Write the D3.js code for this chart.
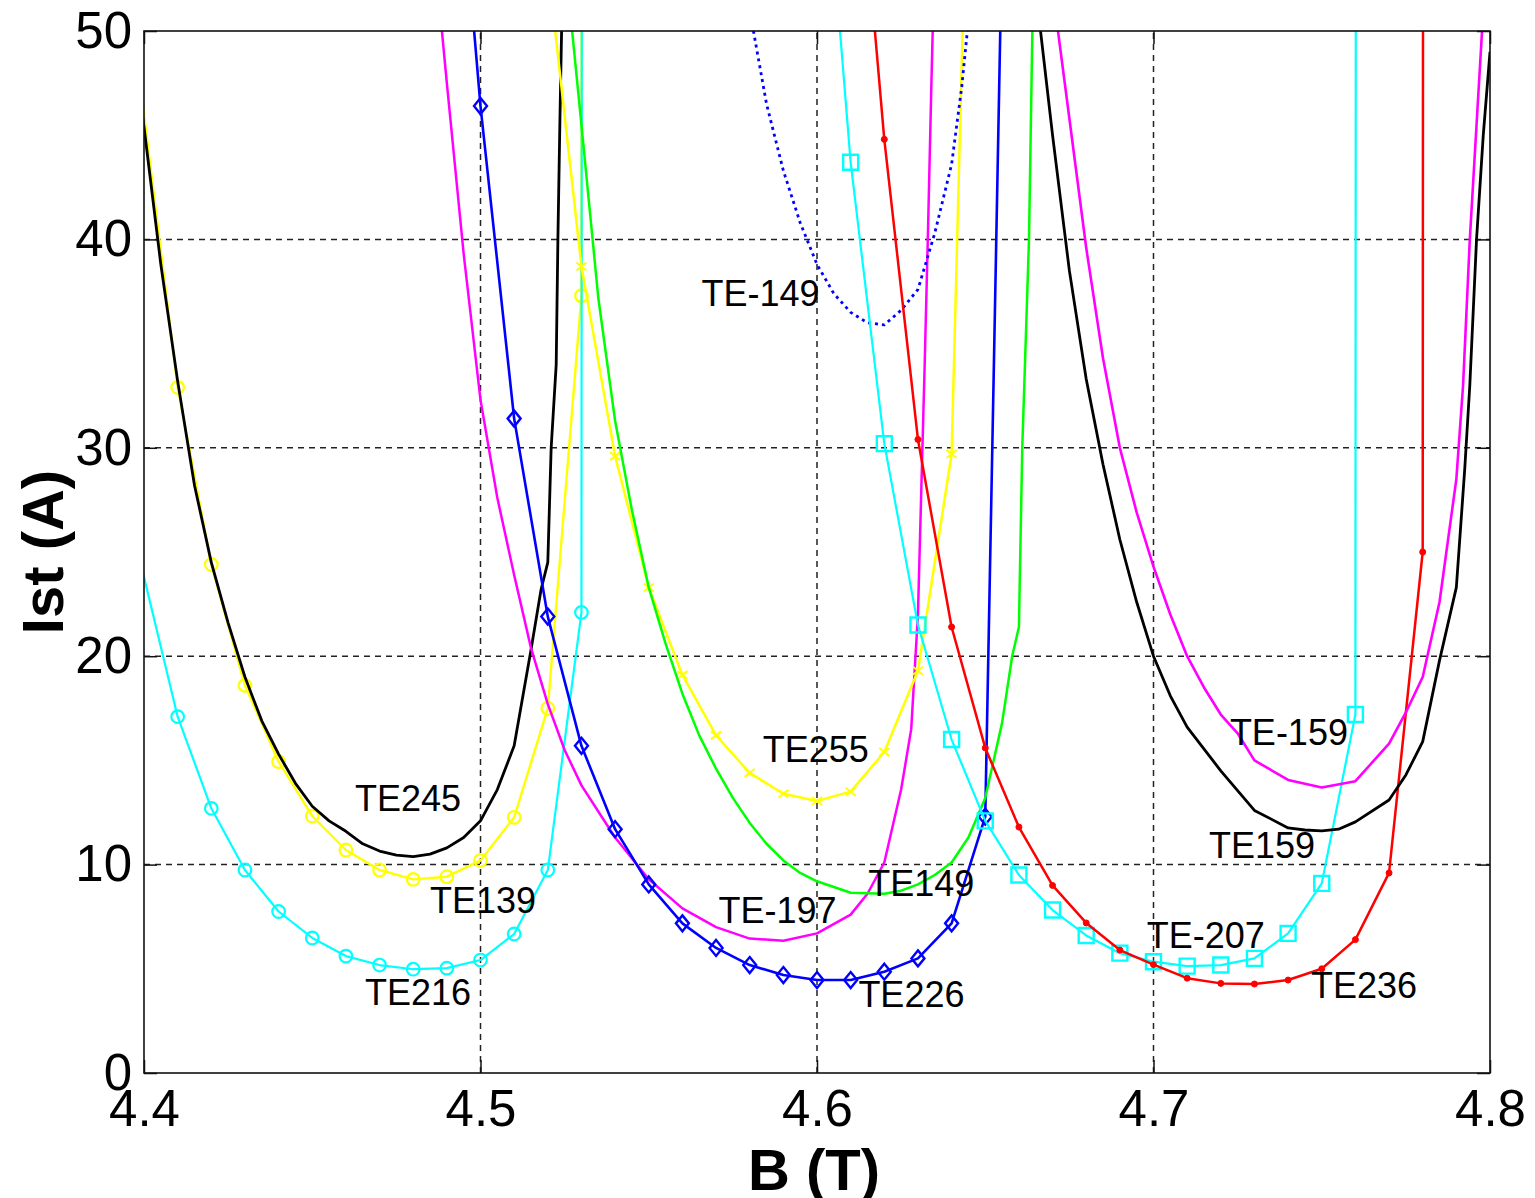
<!DOCTYPE html>
<html><head><meta charset="utf-8">
<script src="https://cdn.jsdelivr.net/npm/d3@7"></script>
<style>html,body{margin:0;padding:0;background:#fff;} svg{display:block;}</style>
</head><body>
<svg id="chart" width="1535" height="1198"></svg>
<script>
// ---------------- data ----------------
const xTicks = [4.4, 4.5, 4.6, 4.7, 4.8];
const xTickLabels = ["4.4", "4.5", "4.6", "4.7", "4.8"];
const yTicks = [0, 10, 20, 30, 40, 50];
const yTickLabels = ["0", "10", "20", "30", "40", "50"];

// TE216 (cyan, circles)
const B_TE216 = [4.39, 4.41, 4.42, 4.43, 4.44, 4.45, 4.46, 4.47, 4.48, 4.49, 4.50, 4.51, 4.52, 4.53, 4.54];
const I_TE216 = [30.5, 17.1, 12.7, 9.74, 7.75, 6.48, 5.61, 5.18, 4.98, 5.03, 5.42, 6.67, 9.74, 22.1, 3000];

// TE139 (yellow, circles)
const B_TE139 = [4.39, 4.41, 4.42, 4.43, 4.44, 4.45, 4.46, 4.47, 4.48, 4.49, 4.50, 4.51, 4.52, 4.53, 4.54];
const I_TE139 = [59.1, 32.9, 24.4, 18.6, 14.94, 12.33, 10.7, 9.74, 9.29, 9.42, 10.2, 12.27, 17.5, 37.3, 3000];

// TE245 (black)
const B_TE245 = [4.390, 4.400, 4.405, 4.410, 4.415, 4.420, 4.425, 4.430, 4.435, 4.440, 4.445, 4.450, 4.455, 4.460, 4.465, 4.470, 4.475, 4.480, 4.485, 4.490, 4.495, 4.500, 4.505, 4.510, 4.515, 4.518, 4.520, 4.521, 4.5225, 4.523, 4.5236, 4.5241, 4.5245];
const I_TE245 = [57.0, 45.4, 38.8, 33.2, 28.2, 24.5, 21.6, 19.0, 16.9, 15.3, 13.9, 12.8, 12.1, 11.6, 11.0, 10.65, 10.45, 10.38, 10.5, 10.8, 11.3, 12.1, 13.6, 15.7, 20.3, 23.2, 24.5, 30.0, 34.0, 40.0, 45.7, 50.0, 54.0];

// TE-197 (magenta)
const B_TEm197 = [4.485, 4.490, 4.495, 4.500, 4.505, 4.510, 4.515, 4.520, 4.525, 4.530, 4.540, 4.550, 4.560, 4.570, 4.580, 4.590, 4.600, 4.610, 4.615, 4.620, 4.625, 4.628, 4.630, 4.631, 4.632, 4.633, 4.634, 4.635];
const I_TEm197 = [56.0, 47.5, 39.3, 32.3, 27.6, 23.9, 20.4, 17.7, 15.5, 13.8, 11.3, 9.3, 7.9, 7.0, 6.45, 6.35, 6.7, 7.6, 8.6, 10.1, 13.6, 16.5, 22.0, 28.0, 34.0, 40.5, 47.5, 54.0];

// TE226 (blue, diamonds)
const B_TE226 = [4.49, 4.50, 4.51, 4.52, 4.53, 4.54, 4.55, 4.56, 4.57, 4.58, 4.59, 4.60, 4.61, 4.62, 4.63, 4.64, 4.65, 4.66];
const I_TE226 = [65.4, 46.4, 31.4, 21.9, 15.7, 11.7, 9.05, 7.18, 6.0, 5.18, 4.7, 4.46, 4.46, 4.86, 5.5, 7.18, 12.3, 96.8];

// TE255 (yellow, x marks)
const B_TE255 = [4.52, 4.53, 4.54, 4.55, 4.56, 4.57, 4.58, 4.59, 4.60, 4.61, 4.62, 4.63, 4.64, 4.65];
const I_TE255 = [53.2, 38.7, 29.6, 23.3, 19.1, 16.2, 14.4, 13.4, 13.05, 13.5, 15.4, 19.3, 29.7, 91.8];

// TE149 (green)
const B_TE149 = [4.526, 4.530, 4.535, 4.540, 4.545, 4.550, 4.555, 4.560, 4.565, 4.570, 4.575, 4.580, 4.585, 4.590, 4.595, 4.600, 4.610, 4.620, 4.625, 4.630, 4.635, 4.640, 4.645, 4.650, 4.655, 4.658, 4.660, 4.661, 4.663, 4.664, 4.6645];
const I_TE149 = [52.0, 45.5, 37.2, 31.3, 27.0, 23.3, 20.6, 18.2, 16.2, 14.6, 13.2, 12.0, 11.0, 10.2, 9.6, 9.2, 8.65, 8.6, 8.75, 9.05, 9.5, 10.1, 11.3, 13.2, 16.8, 20.0, 21.4, 30.0, 40.0, 50.0, 55.0];

// TE-149 (blue, dotted)
const B_TEm149 = [4.580, 4.585, 4.590, 4.595, 4.600, 4.605, 4.610, 4.615, 4.620, 4.625, 4.630, 4.635, 4.640, 4.643, 4.645];
const I_TEm149 = [51.0, 46.5, 43.3, 40.8, 38.8, 37.4, 36.5, 36.0, 35.9, 36.6, 37.6, 40.3, 43.6, 47.3, 50.5];

// TE-207 (cyan, squares)
const B_TEm207 = [4.60, 4.61, 4.62, 4.63, 4.64, 4.65, 4.66, 4.67, 4.68, 4.69, 4.70, 4.71, 4.72, 4.73, 4.74, 4.75, 4.76, 4.77];
const I_TEm207 = [63.6, 43.7, 30.2, 21.5, 16.0, 12.1, 9.5, 7.82, 6.6, 5.75, 5.34, 5.13, 5.18, 5.5, 6.7, 9.1, 17.2, 3000];

// TE236 (red, dots)
const B_TE236 = [4.61, 4.62, 4.63, 4.64, 4.65, 4.66, 4.67, 4.68, 4.69, 4.70, 4.71, 4.72, 4.73, 4.74, 4.75, 4.76, 4.77, 4.78, 4.79];
const I_TE236 = [63.4, 44.8, 30.4, 21.4, 15.6, 11.8, 9.0, 7.2, 5.9, 5.2, 4.55, 4.3, 4.27, 4.46, 5.0, 6.4, 9.6, 25.0, 3000];

// TE-159 (magenta)
const B_TEm159 = [4.670, 4.675, 4.680, 4.685, 4.690, 4.695, 4.700, 4.705, 4.710, 4.715, 4.720, 4.725, 4.730, 4.740, 4.750, 4.760, 4.765, 4.770, 4.775, 4.780, 4.785, 4.790, 4.792, 4.794, 4.796, 4.798];
const I_TEm159 = [52.0, 45.8, 39.6, 34.3, 30.0, 26.9, 24.3, 22.0, 20.0, 18.5, 17.2, 16.3, 15.0, 14.06, 13.7, 14.0, 14.9, 15.8, 17.3, 19.0, 22.6, 28.5, 33.0, 40.0, 45.5, 51.0];

// TE159 (black)
const B_TE159 = [4.665, 4.670, 4.675, 4.680, 4.685, 4.690, 4.695, 4.700, 4.705, 4.710, 4.720, 4.730, 4.740, 4.745, 4.750, 4.755, 4.760, 4.770, 4.775, 4.780, 4.785, 4.790, 4.7925, 4.794, 4.796, 4.798, 4.800];
const I_TE159 = [52.0, 45.0, 38.5, 33.3, 29.2, 25.6, 22.6, 20.0, 18.1, 16.6, 14.5, 12.6, 11.76, 11.66, 11.62, 11.7, 12.05, 13.1, 14.3, 15.9, 19.8, 23.3, 29.0, 33.0, 40.0, 45.0, 49.0];

// curve labels (text, anchor B, anchor I)
const labelText = ["TE245", "TE139", "TE216", "TE-149", "TE255", "TE-197", "TE149", "TE226", "TE-159", "TE159", "TE-207", "TE236"];
const labelB = [4.4627, 4.4850, 4.4657, 4.5657, 4.5839, 4.5707, 4.6152, 4.6123, 4.7227, 4.7165, 4.6980, 4.7468];
const labelI = [12.57, 7.67, 3.26, 36.82, 14.92, 7.18, 8.50, 3.18, 15.72, 10.31, 5.99, 3.60];

// ---------------- drawing ----------------
const series = [
  {B: B_TE139, I: I_TE139, color: "#ffff00", width: 2.4, marker: "circle"},
  {B: B_TE245, I: I_TE245, color: "#000000", width: 2.8, marker: null},
  {B: B_TE216, I: I_TE216, color: "#00ffff", width: 2.2, marker: "circle"},
  {B: B_TEm197, I: I_TEm197, color: "#ff00ff", width: 2.5, marker: null},
  {B: B_TE226, I: I_TE226, color: "#0000ff", width: 2.6, marker: "diamond"},
  {B: B_TE255, I: I_TE255, color: "#ffff00", width: 2.5, marker: "x"},
  {B: B_TE149, I: I_TE149, color: "#00ff00", width: 2.5, marker: null},
  {B: B_TEm149, I: I_TEm149, color: "#0000ff", width: 2.8, marker: null, dash: "3,4"},
  {B: B_TEm207, I: I_TEm207, color: "#00ffff", width: 2.2, marker: "square"},
  {B: B_TE236, I: I_TE236, color: "#ff0000", width: 2.5, marker: "dot"},
  {B: B_TEm159, I: I_TEm159, color: "#ff00ff", width: 2.6, marker: null},
  {B: B_TE159, I: I_TE159, color: "#000000", width: 2.8, marker: null}
];

const FONT = "'Liberation Sans', Arial, Helvetica, sans-serif";
const svg = d3.select("#chart");
svg.append("rect").attr("width", 1535).attr("height", 1198).attr("fill", "#fff");

const x = d3.scaleLinear().domain([4.4, 4.8]).range([144, 1490]);
const y = d3.scaleLinear().domain([0, 50]).range([1073, 31]);
const [x0, x1] = x.range();
const [y0, y1] = y.range();

svg.append("defs").append("clipPath").attr("id", "plotclip")
  .append("rect").attr("x", x0).attr("y", y1).attr("width", x1 - x0).attr("height", y0 - y1);

// grid
const grid = svg.append("g").attr("stroke", "#222").attr("stroke-width", 1.5).attr("stroke-dasharray", "6,5");
grid.selectAll("line.h").data(yTicks.filter(d => d > 0 && d < 50)).join("line")
  .attr("x1", x0).attr("x2", x1).attr("y1", d => y(d)).attr("y2", d => y(d));
grid.selectAll("line.v").data(xTicks.filter(d => d > 4.4 && d < 4.8)).join("line")
  .attr("y1", y0).attr("y2", y1).attr("x1", d => x(d)).attr("x2", d => x(d));

// curves
const plot = svg.append("g").attr("clip-path", "url(#plotclip)");
const line = d3.line().x(d => x(d[0])).y(d => y(d[1]));

function markerPath(type) {
  switch (type) {
    case "diamond": return "M0,-8L6.5,0L0,8L-6.5,0Z";
    case "square": return "M-7.5,-7.5H7.5V7.5H-7.5Z";
    case "x": return "M-5,-4L5,4M-5,4L5,-4";
    default: return null;
  }
}

series.forEach(s => {
  const pts = s.B.map((b, i) => [b, s.I[i]]);
  plot.append("path").datum(pts)
    .attr("fill", "none").attr("stroke", s.color).attr("stroke-width", s.width)
    .attr("stroke-linejoin", "round")
    .attr("stroke-dasharray", s.dash || null)
    .attr("d", line);
  if (s.marker) {
    const g = plot.append("g");
    const sel = g.selectAll("g").data(pts).join("g")
      .attr("transform", d => `translate(${x(d[0])},${y(d[1])})`);
    if (s.marker === "circle") {
      sel.append("circle").attr("r", 6.3).attr("fill", "none").attr("stroke", s.color).attr("stroke-width", 2.2);
    } else if (s.marker === "dot") {
      sel.append("circle").attr("r", 3).attr("fill", s.color).attr("stroke", s.color).attr("stroke-width", 1);
    } else {
      sel.append("path").attr("d", markerPath(s.marker)).attr("fill", "none")
        .attr("stroke", s.color).attr("stroke-width", s.marker === "x" ? 2 : 2.4);
    }
  }
});

// frame
svg.append("rect").attr("x", x0).attr("y", y1).attr("width", x1 - x0).attr("height", y0 - y1)
  .attr("fill", "none").attr("stroke", "#111").attr("stroke-width", 1.6);

// axes
const axB = svg.append("g").attr("transform", `translate(0,${y0})`)
  .call(d3.axisBottom(x).tickValues(xTicks).tickFormat((d, i) => xTickLabels[i]).tickSize(-13).tickSizeOuter(0).tickPadding(17));
const axT = svg.append("g").attr("transform", `translate(0,${y1})`)
  .call(d3.axisTop(x).tickValues(xTicks).tickFormat("").tickSize(-13).tickSizeOuter(0));
const axL = svg.append("g").attr("transform", `translate(${x0},0)`)
  .call(d3.axisLeft(y).tickValues(yTicks).tickFormat((d, i) => yTickLabels[i]).tickSize(-13).tickSizeOuter(0).tickPadding(12));
const axR = svg.append("g").attr("transform", `translate(${x1},0)`)
  .call(d3.axisRight(y).tickValues(yTicks).tickFormat("").tickSize(-13).tickSizeOuter(0));
[axB, axT, axL, axR].forEach(a => {
  a.select(".domain").remove();
  a.selectAll(".tick line").attr("stroke", "#111").attr("stroke-width", 1.5);
  a.selectAll(".tick text").attr("font-family", FONT).attr("font-size", 51).attr("fill", "#000");
});

// axis titles
svg.append("text").attr("x", 814).attr("y", 1190).attr("text-anchor", "middle")
  .attr("font-family", FONT).attr("font-size", 58).attr("font-weight", "bold").text("B (T)");
svg.append("text").attr("transform", "translate(63,552) rotate(-90)").attr("text-anchor", "middle")
  .attr("font-family", FONT).attr("font-size", 58).attr("font-weight", "bold").text("Ist (A)");

// curve labels
svg.append("g").selectAll("text").data(labelText).join("text")
  .attr("x", (d, i) => x(labelB[i])).attr("y", (d, i) => y(labelI[i]))
  .attr("font-family", FONT).attr("font-size", 36).attr("fill", "#000")
  .text(d => d);
</script>
</body></html>
